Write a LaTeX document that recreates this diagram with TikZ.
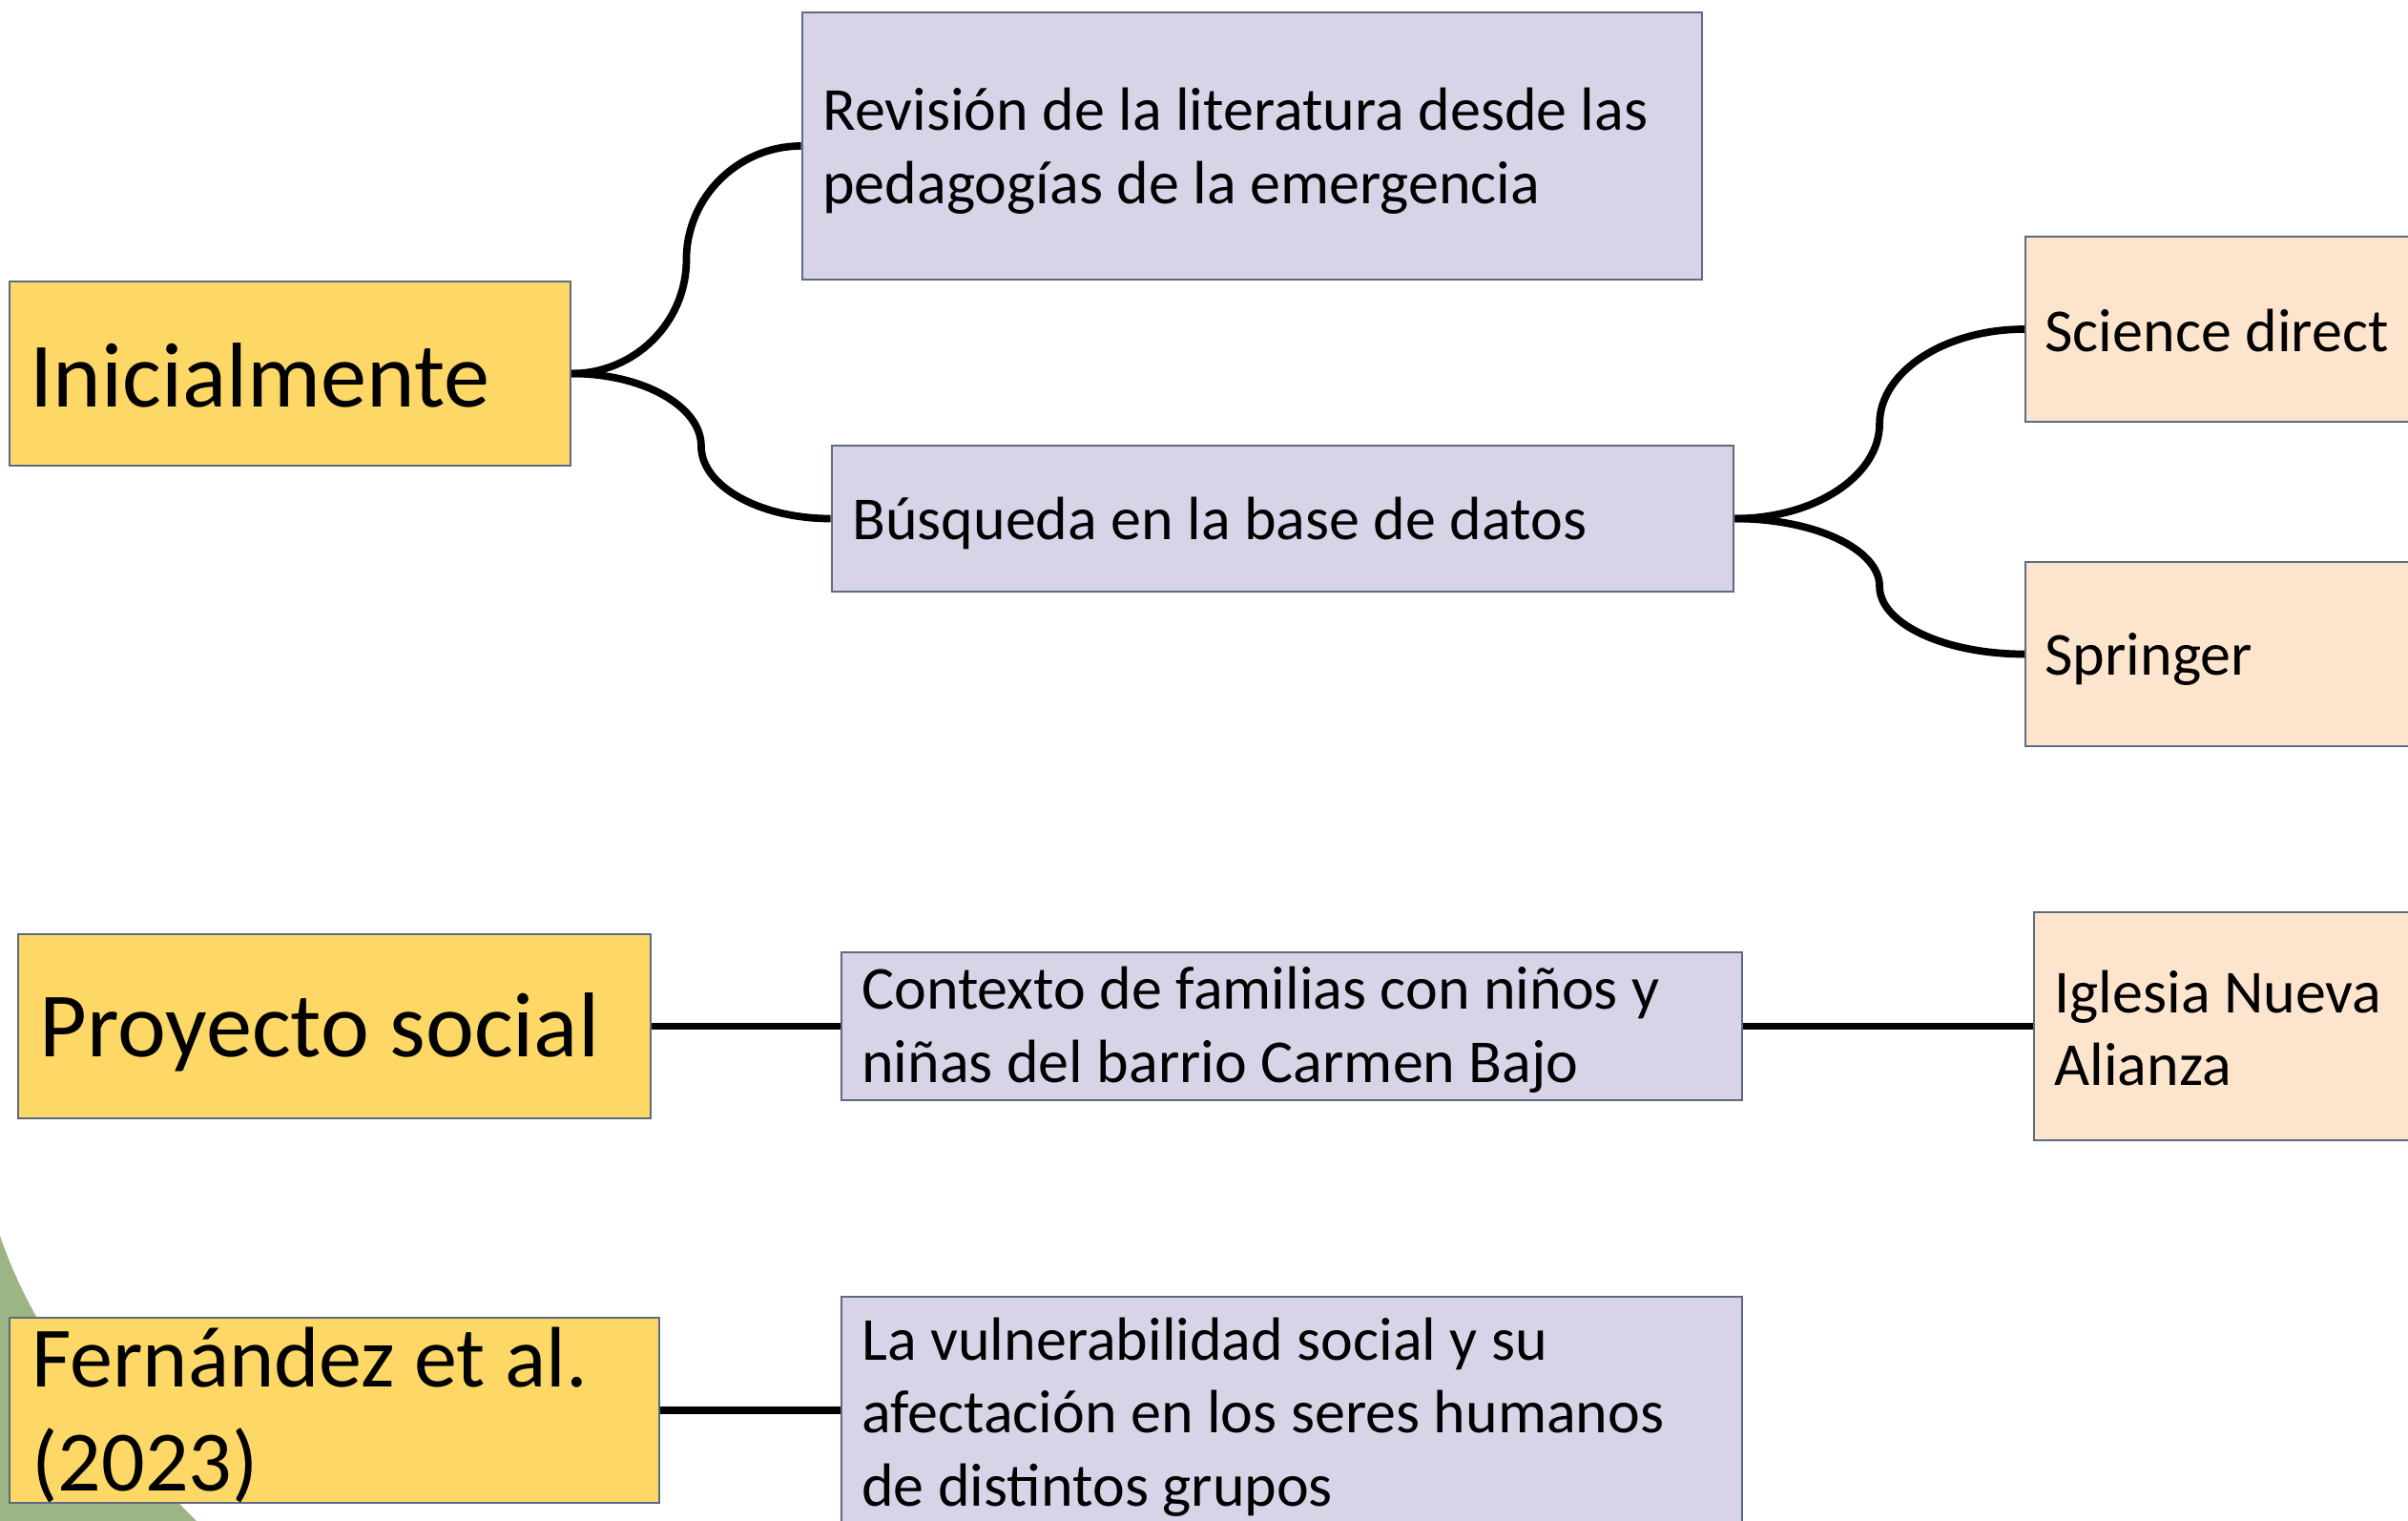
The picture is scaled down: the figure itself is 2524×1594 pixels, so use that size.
\documentclass[tikz,border=0pt]{standalone}
\usepackage{fontspec}
\setmainfont{Carlito}
\usetikzlibrary{calc}
\definecolor{boxyellow}{HTML}{FDD866}
\definecolor{boxlav}{HTML}{D9D3E8}
\definecolor{boxpeach}{HTML}{FCE4CD}
\definecolor{boxedge}{HTML}{5C6A82}
\definecolor{sage}{HTML}{9BB584}
\tikzset{
  box/.style={draw=boxedge, line width=0.6pt, inner sep=0pt, rectangle},
  ybox/.style={box, fill=boxyellow},
  lbox/.style={box, fill=boxlav},
  pbox/.style={box, fill=boxpeach},
  bigtxt/.style={anchor=west, inner sep=0pt, align=left, font=\fontsize{25.6}{31}\selectfont},
  hugetxt/.style={anchor=west, inner sep=0pt, align=left, font=\fontsize{27.4}{33}\selectfont},
  smalltxt/.style={anchor=west, inner sep=0pt, align=left, font=\fontsize{18.2}{21.8}\selectfont},
  conn/.style={line width=2.2pt, black}
}
\begin{document}
\begin{tikzpicture}[x=0.01cm, y=-0.01cm]
\useasboundingbox (0,0) rectangle (2524,1594);
\begin{scope}
\clip (0,0) rectangle (2524,1594);
\fill[white] (0,0) rectangle (2524,1594);
% decorative green shape
\fill[sage] (0,1295) .. controls (35,1400) and (120,1510) .. (212,1600) -- (0,1600) -- cycle;

% boxes
\node[ybox, minimum width=5.88cm, minimum height=1.93cm] (ini) at (304,391.5) {};
\node[lbox, minimum width=9.43cm, minimum height=2.80cm] (rev) at (1312.5,153) {};
\node[lbox, minimum width=9.45cm, minimum height=1.53cm] (bus) at (1344.5,543.5) {};
\node[pbox, minimum width=4.80cm, minimum height=1.94cm] (sci) at (2363,345) {};
\node[pbox, minimum width=4.80cm, minimum height=1.93cm] (spr) at (2363,685.5) {};
\node[ybox, minimum width=6.63cm, minimum height=1.93cm] (pro) at (350.5,1075.5) {};
\node[lbox, minimum width=9.44cm, minimum height=1.55cm] (ctx) at (1354,1075.5) {};
\node[pbox, minimum width=4.70cm, minimum height=2.38cm] (igl) at (2367,1075.5) {};
\node[ybox, minimum width=6.81cm, minimum height=1.94cm] (fer) at (350.5,1478) {};
\node[lbox, minimum width=9.44cm, minimum height=2.38cm] (vul) at (1354,1478) {};

% texts
\node[hugetxt] (tini) at ($(ini.west)+(22,2)$) {Inicialmente};
\node[smalltxt] (trev) at ($(rev.west)+(22,5)$) {Revisión de la literatura desde las\\pedagogías de la emergencia};
\node[smalltxt] (tbus) at ($(bus.west)+(22,5)$) {Búsqueda en la base de datos};
\node[smalltxt] (tsci) at ($(sci.west)+(21,2)$) {Science direct};
\node[smalltxt] (tspr) at ($(spr.west)+(21,5)$) {Springer};
\node[hugetxt] (tpro) at ($(pro.west)+(23,6)$) {Proyecto social};
\node[smalltxt] (tctx) at ($(ctx.west)+(22,4)$) {Contexto de familias con niños y\\niñas del barrio Carmen Bajo};
\node[smalltxt] (tigl) at ($(igl.west)+(22,2)$) {Iglesia Nueva\\Alianza};
\node[bigtxt] (tfer) at ($(fer.west)+(24,5)$) {Fernández et al.\\(2023)};
\node[smalltxt] (tvul) at ($(vul.west)+(22,7)$) {La vulnerabilidad social y su\\afectación en los seres humanos\\de distintos grupos};

% connectors (two quarter-ellipse arcs each)
\coordinate (m1) at ($(ini.east)!0.5!(rev.west)$);
\coordinate (m2) at ($(ini.east)!0.5!(bus.west)$);
\coordinate (m3) at ($(bus.east)!0.5!(sci.west)$);
\coordinate (m4) at ($(bus.east)!0.5!(spr.west)$);
\draw[conn] (ini.east) .. controls ($(ini.east)!0.55!(m1 |- ini.east)$) and ($(m1)!0.55!(m1 |- ini.east)$) .. (m1)
  .. controls ($(m1)!0.55!(m1 |- rev.west)$) and ($(rev.west)!0.55!(m1 |- rev.west)$) .. (rev.west);
\draw[conn] (ini.east) .. controls ($(ini.east)!0.55!(m2 |- ini.east)$) and ($(m2)!0.55!(m2 |- ini.east)$) .. (m2)
  .. controls ($(m2)!0.55!(m2 |- bus.west)$) and ($(bus.west)!0.55!(m2 |- bus.west)$) .. (bus.west);
\draw[conn] (bus.east) .. controls ($(bus.east)!0.55!(m3 |- bus.east)$) and ($(m3)!0.55!(m3 |- bus.east)$) .. (m3)
  .. controls ($(m3)!0.55!(m3 |- sci.west)$) and ($(sci.west)!0.55!(m3 |- sci.west)$) .. (sci.west);
\draw[conn] (bus.east) .. controls ($(bus.east)!0.55!(m4 |- bus.east)$) and ($(m4)!0.55!(m4 |- bus.east)$) .. (m4)
  .. controls ($(m4)!0.55!(m4 |- spr.west)$) and ($(spr.west)!0.55!(m4 |- spr.west)$) .. (spr.west);
\draw[conn] (pro.east) -- (ctx.west);
\draw[conn] (ctx.east) -- (igl.west);
\draw[conn] (fer.east) -- (vul.west);
\end{scope}
\end{tikzpicture}
\end{document}
